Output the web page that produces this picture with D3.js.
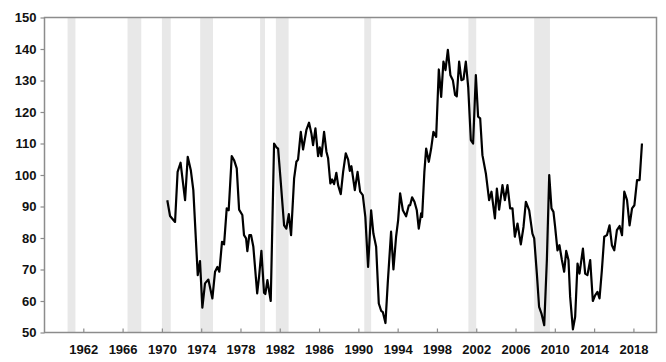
<!DOCTYPE html>
<html>
<head>
<meta charset="utf-8">
<script src="https://cdn.jsdelivr.net/npm/d3@7"></script>
<style>
    body { margin: 0; background: #fff; }
    .tick text { font-family: "Liberation Sans", Arial, sans-serif; font-weight: bold; font-size: 13px; fill: #111; }
</style>
</head>
<body>
<script>
// ================================
// DATA
// ================================

// shaded recession periods, decimal years
var recessionStart = [1960.4, 1966.5, 1970.0, 1973.9, 1980.0, 1981.6, 1990.6, 2001.2, 2007.9];
var recessionEnd   = [1961.2, 1967.9, 1970.9, 1975.2, 1980.5, 1982.9, 1991.3, 2002.0, 2009.5];

// series: decimal year and value
var dates = [
    1970.55, 1970.83, 1971.34, 1971.6, 1971.9, 1972.36, 1972.63, 1972.94, 1973.2, 1973.48,
    1973.65, 1973.88, 1974.12, 1974.39, 1974.73, 1975.14, 1975.41, 1975.65, 1975.85, 1976.12,
    1976.33, 1976.6, 1976.8, 1977.11, 1977.35, 1977.62, 1977.86, 1978.19, 1978.36, 1978.57,
    1978.7, 1978.9, 1979.08, 1979.31, 1979.7, 1979.9, 1980.13, 1980.4, 1980.53, 1980.74,
    1981.08, 1981.42, 1981.66, 1981.83, 1982.06, 1982.44, 1982.67, 1982.92, 1983.15, 1983.46,
    1983.69, 1983.86, 1984.14, 1984.37, 1984.71, 1984.98, 1985.22, 1985.39, 1985.63, 1985.9,
    1986.07, 1986.24, 1986.51, 1986.75, 1986.92, 1987.15, 1987.33, 1987.53, 1987.76, 1987.94,
    1988.21, 1988.45, 1988.72, 1988.96, 1989.13, 1989.29, 1989.64, 1989.92, 1990.18, 1990.45,
    1990.71, 1990.99, 1991.3, 1991.53, 1991.81, 1992.08, 1992.32, 1992.49, 1992.76, 1992.99,
    1993.33, 1993.57, 1993.84, 1994.05, 1994.25, 1994.53, 1994.86, 1995.14, 1995.27, 1995.47,
    1995.71, 1995.95, 1996.15, 1996.39, 1996.49, 1996.72, 1996.9, 1997.17, 1997.41, 1997.64,
    1997.92, 1998.19, 1998.43, 1998.66, 1998.87, 1999.11, 1999.37, 1999.62, 1999.85, 2000.02,
    2000.26, 2000.49, 2000.7, 2000.94, 2001.18, 2001.45, 2001.68, 2001.96, 2002.19, 2002.4,
    2002.63, 2002.98, 2003.31, 2003.55, 2003.9, 2004.1, 2004.33, 2004.67, 2004.91, 2005.18,
    2005.45, 2005.69, 2005.93, 2006.2, 2006.54, 2006.81, 2007.05, 2007.39, 2007.72, 2007.9,
    2008.17, 2008.4, 2008.64, 2008.92, 2009.19, 2009.43, 2009.66, 2009.86, 2010.03, 2010.27,
    2010.47, 2010.72, 2010.95, 2011.16, 2011.39, 2011.56, 2011.84, 2012.07, 2012.31, 2012.51,
    2012.86, 2013.09, 2013.32, 2013.6, 2013.87, 2014.1, 2014.34, 2014.55, 2014.79, 2015.03,
    2015.3, 2015.57, 2015.81, 2016.05, 2016.32, 2016.59, 2016.84, 2017.07, 2017.35, 2017.61,
    2017.86, 2018.1, 2018.37, 2018.63, 2018.87
];
var values = [
    92, 87, 85.1, 101, 103.9, 92, 105.8, 101.6, 95.2, 78.3,
    68.2, 72.7, 57.9, 65.6, 66.8, 60.8, 69.3, 70.8, 69.3, 78.8,
    78, 89.4, 88.8, 106, 104.7, 102.1, 89, 87.3, 80.9, 79.9,
    75.8, 80.9, 80.9, 77.2, 62.4, 68, 75.9, 62.6, 62.2, 66.6,
    60, 110, 108.8, 108.4, 99.4, 84, 83, 87.6, 80.9, 98.9,
    104.2, 104.9, 113.7, 108.1, 114.3, 116.6, 113.2, 109.5, 114.8, 106,
    108.8, 106, 113.7, 107.4, 105.3, 97.3, 98.6, 97.1, 100.7, 96.8,
    93.9, 101, 106.9, 104.9, 101.3, 102.8, 95.2, 101, 94.7, 93.6,
    86.7, 70.8, 88.8, 81.4, 77.2, 59.2, 56.9, 56.5, 53, 65.6,
    82, 70, 80.4, 85.7, 94.2, 88.8, 86.9, 90.4, 90.4, 92.9,
    91.5, 88.8, 83, 87.8, 86.7, 101, 108.4, 104.2, 108.4, 113.7,
    112.1, 133.5, 124.8, 136, 133.3, 139.7, 131.7, 130.1, 125.4, 125,
    136, 130.1, 130.4, 136, 128, 111.1, 110, 131.7, 118.5, 118,
    106.3, 100.5, 92, 94.7, 86.2, 95.7, 89, 96.8, 92, 96.8,
    89.4, 89.4, 80.4, 84.6, 78, 83.5, 91.5, 88.8, 81.4, 79.9,
    68.7, 58.1, 56, 52.3, 73, 100, 89.4, 88.3, 83.5, 76.1,
    77.7, 73, 69.3, 75.9, 73, 61.3, 51, 55, 71.9, 68.7,
    76.6, 68.7, 68.2, 73, 60, 61.8, 62.9, 60.8, 69.8, 80.4,
    80.9, 84, 77.7, 76.1, 82.5, 83.8, 80.9, 94.7, 92, 84,
    89.4, 90.4, 98.4, 98.4, 110
];

// axis ticks
var xTicks = [1962, 1966, 1970, 1974, 1978, 1982, 1986, 1990, 1994, 1998, 2002, 2006, 2010, 2014, 2018];
var yTicks = [50, 60, 70, 80, 90, 100, 110, 120, 130, 140, 150];


// ================================
// DRAW
// ================================
var width = 666,
    height = 362;

var plotLeft = 44.5,
    plotRight = 656.5,
    plotTop = 17.5,
    plotBottom = 332.5;

var svg = d3.select("body")
    .append("svg")
    .attr("width", width)
    .attr("height", height);

var x = d3.scaleLinear()
    .domain([1958.05, 2020.35])
    .range([plotLeft, plotRight]);

var y = d3.scaleLinear()
    .domain([50, 150])
    .range([plotBottom, plotTop]);

// recession bars
svg.selectAll(".recession")
    .data(recessionStart)
    .enter()
    .append("rect")
    .attr("class", "recession")
    .attr("x", function(d){ return x(d); })
    .attr("width", function(d, i){ return x(recessionEnd[i]) - x(d); })
    .attr("y", plotTop)
    .attr("height", plotBottom - plotTop)
    .style("fill", "#e8e8e8");

// series line
var points = dates.map(function(d, i){ return [d, values[i]]; });

var line = d3.line()
    .x(function(d){ return x(d[0]); })
    .y(function(d){ return y(d[1]); });

svg.append("path")
    .datum(points)
    .attr("d", line)
    .style("fill", "none")
    .style("stroke", "#000")
    .style("stroke-width", 2.2)
    .style("stroke-linejoin", "round");

// frame
svg.append("rect")
    .attr("x", plotLeft)
    .attr("y", plotTop)
    .attr("width", plotRight - plotLeft)
    .attr("height", plotBottom - plotTop)
    .style("fill", "none")
    .style("stroke", "#8c8c8c")
    .style("stroke-width", 1.5);

// y axis (ticks outside)
var yAxis = svg.append("g")
    .attr("transform", "translate(" + plotLeft + ",0)")
    .call(d3.axisLeft(y).tickValues(yTicks).tickSize(4).tickPadding(4));

// x axis (ticks pointing up into the plot)
var xAxis = svg.append("g")
    .attr("transform", "translate(0," + plotBottom + ")")
    .call(d3.axisBottom(x).tickValues(xTicks).tickFormat(d3.format("d")).tickSizeInner(-4).tickSizeOuter(0).tickPadding(12));

[yAxis, xAxis].forEach(function(g){
    g.select(".domain").remove();
    g.selectAll(".tick line").style("stroke", "#8c8c8c").style("stroke-width", 1.2);
});
</script>
</body>
</html>
